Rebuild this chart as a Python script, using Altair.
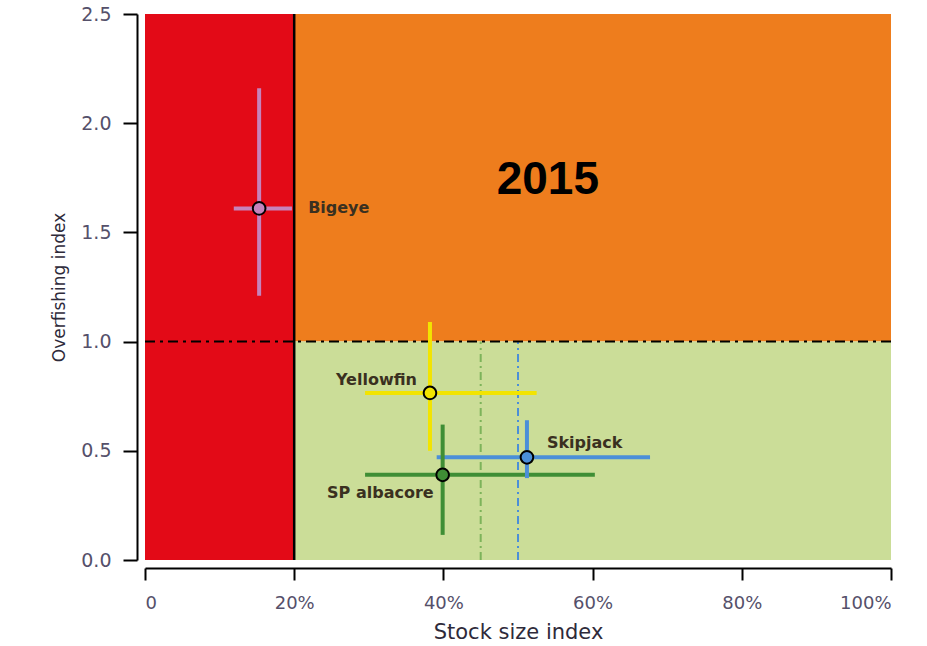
import altair as alt
import pandas as pd

# ---- data ----
species = ["Bigeye", "Yellowfin", "Skipjack", "SP albacore"]
stock = [15.3, 38.2, 51.2, 39.9]
overfishing = [1.61, 0.765, 0.47, 0.39]
stock_lo = [11.9, 29.5, 39.1, 29.5]
stock_hi = [19.7, 52.5, 67.7, 60.3]
over_lo = [1.21, 0.50, 0.375, 0.115]
over_hi = [2.16, 1.09, 0.64, 0.62]
species_colors = ["#C683BC", "#F2E400", "#4B8FD8", "#3F8E35"]

zone_names = ["overfished", "overfishing", "healthy"]
zone_x0 = [0, 20, 20]
zone_x1 = [20, 100, 100]
zone_y0 = [0, 1, 0]
zone_y1 = [2.5, 2.5, 1]
zone_colors = ["#E30A17", "#EE7D1D", "#CBDD98"]

ref_names = ["SP albacore ref", "Skipjack ref"]
ref_x = [45, 50]
ref_top = [1.0, 1.0]
ref_colors = ["#7DB35A", "#4B8FD8"]

x_ticks = [0, 20, 40, 60, 80, 100]
y_ticks = [0.0, 0.5, 1.0, 1.5, 2.0, 2.5]
year_text = ["2015"]
year_x = [54]
year_y = [1.74]

df = pd.DataFrame({"species": species, "stock": stock, "over": overfishing,
                   "slo": stock_lo, "shi": stock_hi, "olo": over_lo, "ohi": over_hi,
                   "c": species_colors})
zones = pd.DataFrame({"zone": zone_names, "x0": zone_x0, "x1": zone_x1,
                      "y0": zone_y0, "y1": zone_y1, "c": zone_colors})
refs = pd.DataFrame({"ref": ref_names, "x": ref_x, "y0": [0, 0], "y1": ref_top, "c": ref_colors})
year = pd.DataFrame({"t": year_text, "x": year_x, "y": year_y})

xs = alt.Scale(domain=[0, 100], nice=False, zero=False)
ys = alt.Scale(domain=[0, 2.5], nice=False, zero=False)
col = alt.Color("c:N", scale=None, legend=None)

FONT = "DejaVu Sans"

x_axis = alt.Axis(values=x_ticks, labelExpr="datum.value == 0 ? '0' : datum.value + '%'",
                  title="Stock size index", grid=False, offset=8, tickSize=12,
                  domainColor="black", tickColor="black", domainWidth=2, tickWidth=2,
                  labelFont=FONT, labelFontSize=18, labelColor="#55506A", labelPadding=14,
                  titleFont=FONT, titleFontSize=21, titleFontWeight="normal", titleColor="#2E2A3A",
                  titlePadding=9)
y_axis = alt.Axis(values=y_ticks, format=".1f", title="Overfishing index", grid=False,
                  offset=8, tickSize=14, domainColor="black", tickColor="black",
                  domainWidth=2, tickWidth=2, labelFont=FONT, labelFontSize=19,
                  labelColor="#55506A", labelPadding=12, titleFont=FONT, titleFontSize=17,
                  titleFontWeight="normal", titleColor="#2E2A3A", titlePadding=12)

bg = alt.Chart(zones).mark_rect().encode(
    x=alt.X("x0:Q", scale=xs, axis=x_axis), x2="x1:Q",
    y=alt.Y("y0:Q", scale=ys, axis=y_axis), y2="y1:Q",
    color=col,
)

vline = alt.Chart(zones[zones.zone == "overfished"]).mark_rule(color="black", strokeWidth=2.5).encode(
    x=alt.X("x1:Q", scale=xs), y=alt.Y("y0:Q", scale=ys), y2="y1:Q")

hline = alt.Chart(pd.DataFrame({"y": [1.0]})).mark_rule(
    color="black", strokeWidth=2, strokeDash=[10, 5, 3, 5]).encode(
    y=alt.Y("y:Q", scale=ys), x=alt.value(0), x2=alt.value(746))

ref_lines = alt.Chart(refs).mark_rule(strokeWidth=2, strokeDash=[8, 4, 2, 4]).encode(
    x=alt.X("x:Q", scale=xs), y=alt.Y("y0:Q", scale=ys), y2="y1:Q", color=col)

hbar = alt.Chart(df).mark_rule(strokeWidth=4).encode(
    x=alt.X("slo:Q", scale=xs), x2="shi:Q", y=alt.Y("over:Q", scale=ys), color=col)
vbar = alt.Chart(df).mark_rule(strokeWidth=4).encode(
    x=alt.X("stock:Q", scale=xs), y=alt.Y("olo:Q", scale=ys), y2="ohi:Q", color=col)

pts = alt.Chart(df).mark_point(filled=True, size=160, stroke="black", strokeWidth=2, opacity=1).encode(
    x=alt.X("stock:Q", scale=xs), y=alt.Y("over:Q", scale=ys),
    fill=alt.Fill("c:N", scale=None, legend=None))

label_style = {
    "Bigeye": dict(align="left", dx=49, dy=0),
    "Yellowfin": dict(align="right", dx=-13, dy=-13),
    "Skipjack": dict(align="left", dx=20, dy=-14),
    "SP albacore": dict(align="right", dx=-9, dy=18),
}
labels = []
for sp in species:
    st = label_style[sp]
    labels.append(
        alt.Chart(df).transform_filter(alt.datum.species == sp).mark_text(
            font=FONT, fontSize=16, fontWeight="bold", color="#3A3020", baseline="middle", **st
        ).encode(x=alt.X("stock:Q", scale=xs), y=alt.Y("over:Q", scale=ys), text="species:N")
    )

year_mark = alt.Chart(year).mark_text(
    font="Liberation Sans", fontSize=46, fontWeight="bold", color="black", baseline="middle", align="center"
).encode(x=alt.X("x:Q", scale=xs), y=alt.Y("y:Q", scale=ys), text="t:N")

chart = alt.layer(bg, ref_lines, hline, vline, hbar, vbar, pts, *labels, year_mark).properties(
    width=746, height=546,
    autosize=alt.AutoSizeParams(type="none"),
    padding={"left": 145, "top": 14, "right": 36, "bottom": 86},
    background="white",
).configure_view(stroke=None)

chart.save("out.html", embed_options={"renderer": "svg", "actions": False})
